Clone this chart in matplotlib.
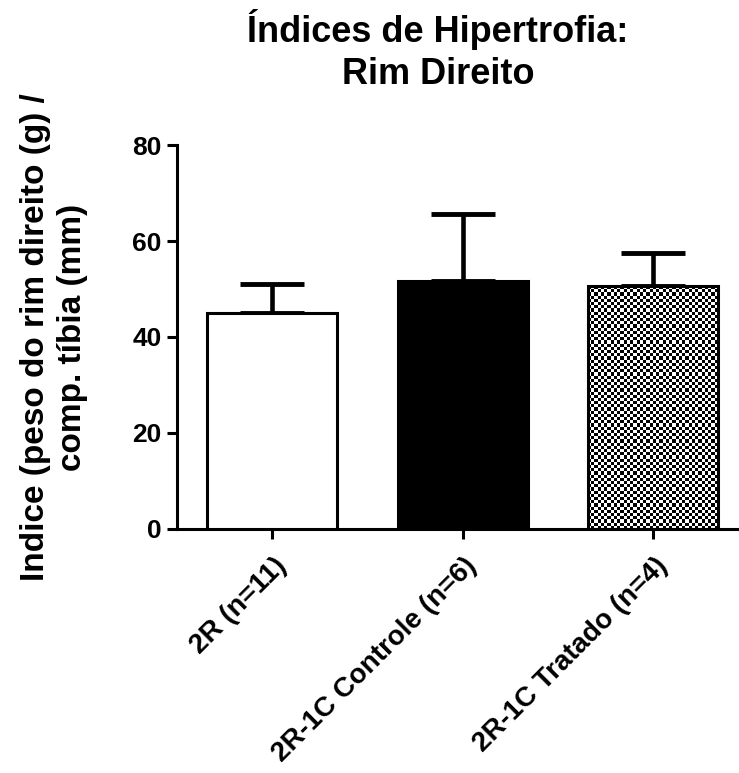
import numpy as np
import matplotlib
matplotlib.use("Agg")
import matplotlib.pyplot as plt
import matplotlib.transforms as mtransforms

plt.rcParams['font.family'] = ['Liberation Sans', 'DejaVu Sans']
plt.rcParams['font.weight'] = 'bold'

# data
groups = ['2R (n=11)', '2R-1C Controle (n=6)', '2R-1C Tratado (n=4)']
means = [45.1, 51.7, 50.6]
errors = [5.9, 13.9, 6.8]
yticks = [0, 20, 40, 60, 80]

fig = plt.figure(figsize=(7.39, 7.73), dpi=100)
ax = fig.add_axes([0.2395, 0.3157, 0.7605, 0.4967])

x = np.arange(len(groups))
bars = ax.bar(x, means, width=0.68, color=['white', 'black', 'none'],
              edgecolor='black', linewidth=2.2, zorder=3)
ax.errorbar(x, means, yerr=[np.zeros(len(means)), errors], fmt='none',
            ecolor='black', elinewidth=3.3, capsize=23, capthick=3.5,
            zorder=2)

ax.set_xlim(-0.5, 2.45)
ax.set_ylim(0, 80)
ax.set_yticks(yticks)
ax.set_xticks(x)

for side in ['top', 'right']:
    ax.spines[side].set_visible(False)
for side in ['left', 'bottom']:
    ax.spines[side].set_linewidth(2.2)
ax.tick_params(axis='both', width=2.2, length=7, labelsize=19)
ax.tick_params(axis='y', pad=4)
ax.tick_params(axis='x', pad=10)

ax.set_xticklabels(groups, rotation=45, ha='right', va='top',
                   rotation_mode='anchor', fontsize=20)
shift = mtransforms.ScaledTranslation(0.5 / 72, 0, fig.dpi_scale_trans)
for lab in ax.get_xticklabels():
    lab.set_transform(lab.get_transform() + shift)

ax.set_ylabel('Indice (peso do rim direito (g) /\ncomp. tíbia (mm)',
              fontsize=24, fontweight='bold', linespacing=1.25)
ax.yaxis.set_label_coords(-0.158, 0.5)

ax.set_title('Índices de Hipertrofia:\nRim Direito', fontsize=26,
             fontweight='bold', x=0.464, pad=44, linespacing=1.25)

# checkerboard fill for the third bar
fig.canvas.draw()
b = bars[2]
bb = b.get_window_extent()
ncol = int(round(bb.width / 3.2))
nrow = int(round(bb.height / 3.2))
board = np.indices((nrow, ncol)).sum(axis=0) % 2
im = ax.imshow(board, cmap='gray', interpolation='nearest', aspect='auto',
               extent=(b.get_x(), b.get_x() + b.get_width(), 0, b.get_height()),
               zorder=2.5)
im.set_clip_path(b)
ax.set_xlim(-0.5, 2.45)
ax.set_ylim(0, 80)

fig.savefig('out.png', dpi=100)
